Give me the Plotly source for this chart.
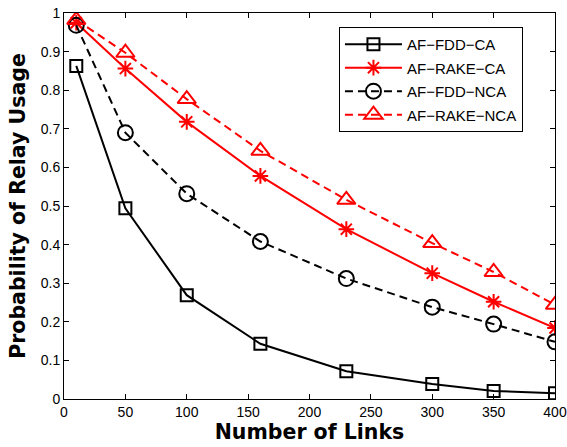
import plotly.graph_objects as go

links = [10, 50, 100, 160, 230, 300, 350, 400]
fdd_ca = [0.863, 0.494, 0.269, 0.143, 0.072, 0.039, 0.021, 0.015]
rake_ca = [0.975, 0.856, 0.718, 0.578, 0.440, 0.326, 0.252, 0.184]
fdd_nca = [0.968, 0.690, 0.532, 0.408, 0.312, 0.238, 0.194, 0.148]
rake_nca = [0.982, 0.897, 0.777, 0.643, 0.516, 0.404, 0.329, 0.244]

series = [
    ("AF\u2212FDD\u2212CA", fdd_ca, "black", "solid", "square-open", 12),
    ("AF\u2212RAKE\u2212CA", rake_ca, "red", "solid", "asterisk-open", 13),
    ("AF\u2212FDD\u2212NCA", fdd_nca, "black", "8px,5px", "circle-open", 15),
    ("AF\u2212RAKE\u2212NCA", rake_nca, "red", "8px,5px", "triangle-up-open", 16),
]

fig = go.Figure()
for i, (name, vals, col, dash, sym, sz) in enumerate(series):
    fig.add_trace(go.Scatter(
        x=links, y=vals, name=name, mode="lines+markers",
        line=dict(color=col, width=2, dash=dash),
        marker=dict(symbol=sym, size=sz, color=col, line=dict(color=col, width=2)),
        legendgroup=str(i),
    ))

font = "Liberation Sans, Arial, sans-serif"
tfont = "DejaVu Sans, sans-serif"
axis_common = dict(
    showline=True, linecolor="black", linewidth=1, mirror="ticks",
    ticks="inside", ticklen=5, tickcolor="black", showgrid=False, zeroline=False,
    tickfont=dict(family=font, size=14, color="black"), automargin=False,
)
fig.update_layout(
    width=567, height=447,
    margin=dict(l=64, r=12, t=13, b=48),
    paper_bgcolor="white", plot_bgcolor="white",
    showlegend=True,
    legend=dict(
        x=0.56, y=0.964, xanchor="left", yanchor="top",
        bgcolor="white", bordercolor="black", borderwidth=1,
        font=dict(family=font, size=15, color="black"),
        tracegroupgap=1, traceorder="grouped", itemwidth=57,
    ),
    xaxis=dict(range=[0, 400], tickvals=[0, 50, 100, 150, 200, 250, 300, 350, 400],
               title=dict(text="<b>Number of Links</b>", font=dict(family=tfont, size=20.5, color="black"), standoff=2),
               **axis_common),
    yaxis=dict(range=[0, 1], tickvals=[0, 0.1, 0.2, 0.3, 0.4, 0.5, 0.6, 0.7, 0.8, 0.9, 1],
               ticktext=["0", "0.1", "0.2", "0.3", "0.4", "0.5", "0.6", "0.7", "0.8", "0.9", "1"],
               title=dict(text="<b>Probability of Relay Usage</b>", font=dict(family=tfont, size=20.5, color="black"), standoff=9),
               **axis_common),
)
fig.write_html("out.html", config={"displayModeBar": False},
               post_script="document.body.style.margin='0px';document.body.style.overflow='hidden';")
